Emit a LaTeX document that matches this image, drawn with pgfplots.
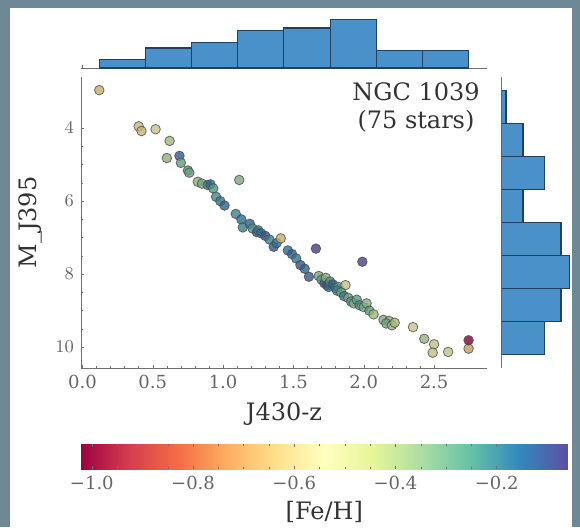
\documentclass[border=0pt]{standalone}
\usepackage{pgfplots}
\usepackage{pgfplotstable}
\usepackage{fontspec}
\setmainfont{DejaVu Serif}
\pgfplotsset{compat=1.18}

\definecolor{frame}{HTML}{6F8896}
\definecolor{histface}{RGB}{74,144,201}
\definecolor{histedge}{HTML}{23405E}
\definecolor{spine}{HTML}{707070}
\definecolor{ticklab}{HTML}{666666}
\definecolor{labtxt}{HTML}{333333}

% J430-z, M_J395, [Fe/H]
\pgfplotstableread{
x y feh
0.12 2.96 -0.64
0.40 3.95 -0.60
0.42 4.08 -0.62
0.52 4.03 -0.55
0.62 4.35 -0.40
0.60 4.82 -0.36
0.69 4.76 -0.12
0.70 4.95 -0.28
0.75 5.16 -0.25
0.76 5.22 -0.30
0.82 5.47 -0.36
0.85 5.52 -0.32
0.89 5.56 -0.22
0.91 5.54 -0.14
0.93 5.65 -0.26
1.115 5.42 -0.33
0.95 5.88 -0.22
0.98 6.00 -0.18
1.01 6.12 -0.14
1.09 6.35 -0.20
1.13 6.50 -0.16
1.14 6.72 -0.20
1.19 6.62 -0.14
1.21 6.75 -0.24
1.24 6.85 -0.12
1.25 6.80 -0.18
1.27 6.88 -0.16
1.30 6.95 -0.10
1.33 7.05 -0.20
1.36 7.25 -0.11
1.38 7.15 -0.16
1.41 7.02 -0.64
1.46 7.35 -0.16
1.49 7.45 -0.12
1.52 7.57 -0.18
1.55 7.75 -0.10
1.58 7.85 -0.14
1.61 8.07 -0.11
1.66 7.30 -0.06
1.68 8.05 -0.32
1.70 8.15 -0.26
1.72 8.25 -0.12
1.73 8.10 -0.34
1.74 8.30 -0.10
1.75 8.35 -0.16
1.76 8.20 -0.24
1.78 8.28 -0.12
1.80 8.38 -0.18
1.82 8.35 -0.26
1.87 8.30 -0.58
1.99 7.66 -0.07
1.81 8.45 -0.20
1.84 8.50 -0.28
1.86 8.60 -0.18
1.89 8.65 -0.32
1.91 8.75 -0.24
1.93 8.80 -0.34
1.95 8.70 -0.28
1.97 8.85 -0.22
2.00 8.90 -0.32
2.02 8.80 -0.35
2.04 9.00 -0.26
2.07 9.10 -0.40
2.14 9.25 -0.34
2.18 9.28 -0.36
2.16 9.35 -0.31
2.20 9.40 -0.38
2.22 9.33 -0.42
2.35 9.45 -0.55
2.43 9.77 -0.38
2.50 9.92 -0.50
2.49 10.15 -0.58
2.60 10.13 -0.50
2.745 10.04 -0.68
2.745 9.81 -1.02
}\stars

\begin{document}
\begin{tikzpicture}
\path[use as bounding box] (0,0) rectangle (290pt,263.5pt);
\fill[frame] (0,0) rectangle (290pt,263.5pt);
\fill[white] (5pt,0) rectangle (286pt,259.5pt);

% marginal histogram of J430-z
\begin{axis}[
    at={(40.5pt,229.5pt)}, anchor=south west,
    scale only axis, width=203pt, height=25.5pt,
    xmin=-0.01, xmax=2.876, ymin=0, ymax=17.85,
    axis x line=bottom, axis y line=none,
    x axis line style={draw=spine, -},
    xtick={0,0.5,...,2.5}, xticklabels={},
    tick align=inside, major tick length=1.5pt,
    tick style={spine},
]
\addplot[ybar interval, fill=histface, draw=histedge, line width=0.6pt]
coordinates {(0.12,3) (0.448,7) (0.776,9) (1.104,13) (1.432,14) (1.761,17) (2.089,6) (2.417,6) (2.745,6)};
\end{axis}

% marginal histogram of M_J395
\begin{axis}[
    at={(250.85pt,79.5pt)}, anchor=south west,
    scale only axis, width=35pt, height=145.5pt,
    xmin=0, xmax=16.5, ymin=2.6, ymax=10.57, y dir=reverse,
    axis y line=left, axis x line=none,
    y axis line style={draw=spine, -},
    ytick={4,6,8,10}, yticklabels={},
    tick align=inside, major tick length=1.5pt,
    tick style={spine},
]
\addplot[xbar interval, fill=histface, draw=histedge, line width=0.6pt]
coordinates {(1,2.96) (5,3.866) (10,4.773) (5,5.679) (14,6.585) (16,7.491) (14,8.398) (10,9.304) (10,10.21)};
\end{axis}

% colour-magnitude diagram
\begin{axis}[
    name=main,
    at={(40.5pt,79.5pt)}, anchor=south west,
    scale only axis, width=203pt, height=145.5pt,
    xmin=-0.01, xmax=2.876, ymin=2.6, ymax=10.57, y dir=reverse,
    axis lines=left,
    axis line style={draw=spine, -},
    xtick={0,0.5,1,1.5,2,2.5}, xticklabels={0.0,0.5,1.0,1.5,2.0,2.5},
    ytick={4,6,8,10},
    minor x tick num=4, minor y tick num=3,
    tick align=inside, major tick length=1.6pt, minor tick length=1pt,
    tick style={spine},
    ticklabel style={font=\fontsize{9}{10}\selectfont, text=ticklab},
    xlabel={J430-z}, ylabel={M\_J395},
    label style={font=\fontsize{12}{14}\selectfont, text=labtxt},
    colormap={spectral}{rgb255=(158,1,66) rgb255=(213,62,79) rgb255=(244,109,67)
        rgb255=(253,174,97) rgb255=(254,224,139) rgb255=(255,255,191)
        rgb255=(230,245,152) rgb255=(171,221,164) rgb255=(102,194,165)
        rgb255=(50,136,189) rgb255=(94,79,162)},
    point meta min=-1.022, point meta max=-0.059,
    colorbar horizontal,
    colorbar style={
        at={(parent axis.south west)}, anchor=north west,
        xshift=-0.15pt, yshift=-29.5pt,
        scale only axis, width=243.65pt, height=12.5pt,
        xtick={-1,-0.8,-0.6,-0.4,-0.2},
        xticklabels={−1.0,−0.8,−0.6,−0.4,−0.2},
        minor x tick num=3,
        axis line style={draw=none},
        tick align=inside, major tick length=1.6pt, minor tick length=1pt,
        tick style={spine},
        xticklabel style={font=\fontsize{9}{10}\selectfont, text=ticklab},
        xlabel={[Fe/H]},
        xlabel style={font=\fontsize{12}{14}\selectfont, text=labtxt, yshift=1pt},
    },
]
\addplot[scatter, only marks, mark=*, mark size=2.4pt,
    point meta=explicit,
    scatter/use mapped color={draw=black!70, fill=mapped color!78!black},
    mark options={opacity=0.8, line width=0.4pt}]
    table[x=x, y=y, meta=feh] {\stars};
\end{axis}
\node[anchor=north east, align=center, inner sep=0pt, text=labtxt,
    font=\fontsize{12}{14}\selectfont]
    at ([xshift=-3.5pt, yshift=-2.5pt]main.north east) {NGC 1039\\(75 stars)};
\end{tikzpicture}
\end{document}
